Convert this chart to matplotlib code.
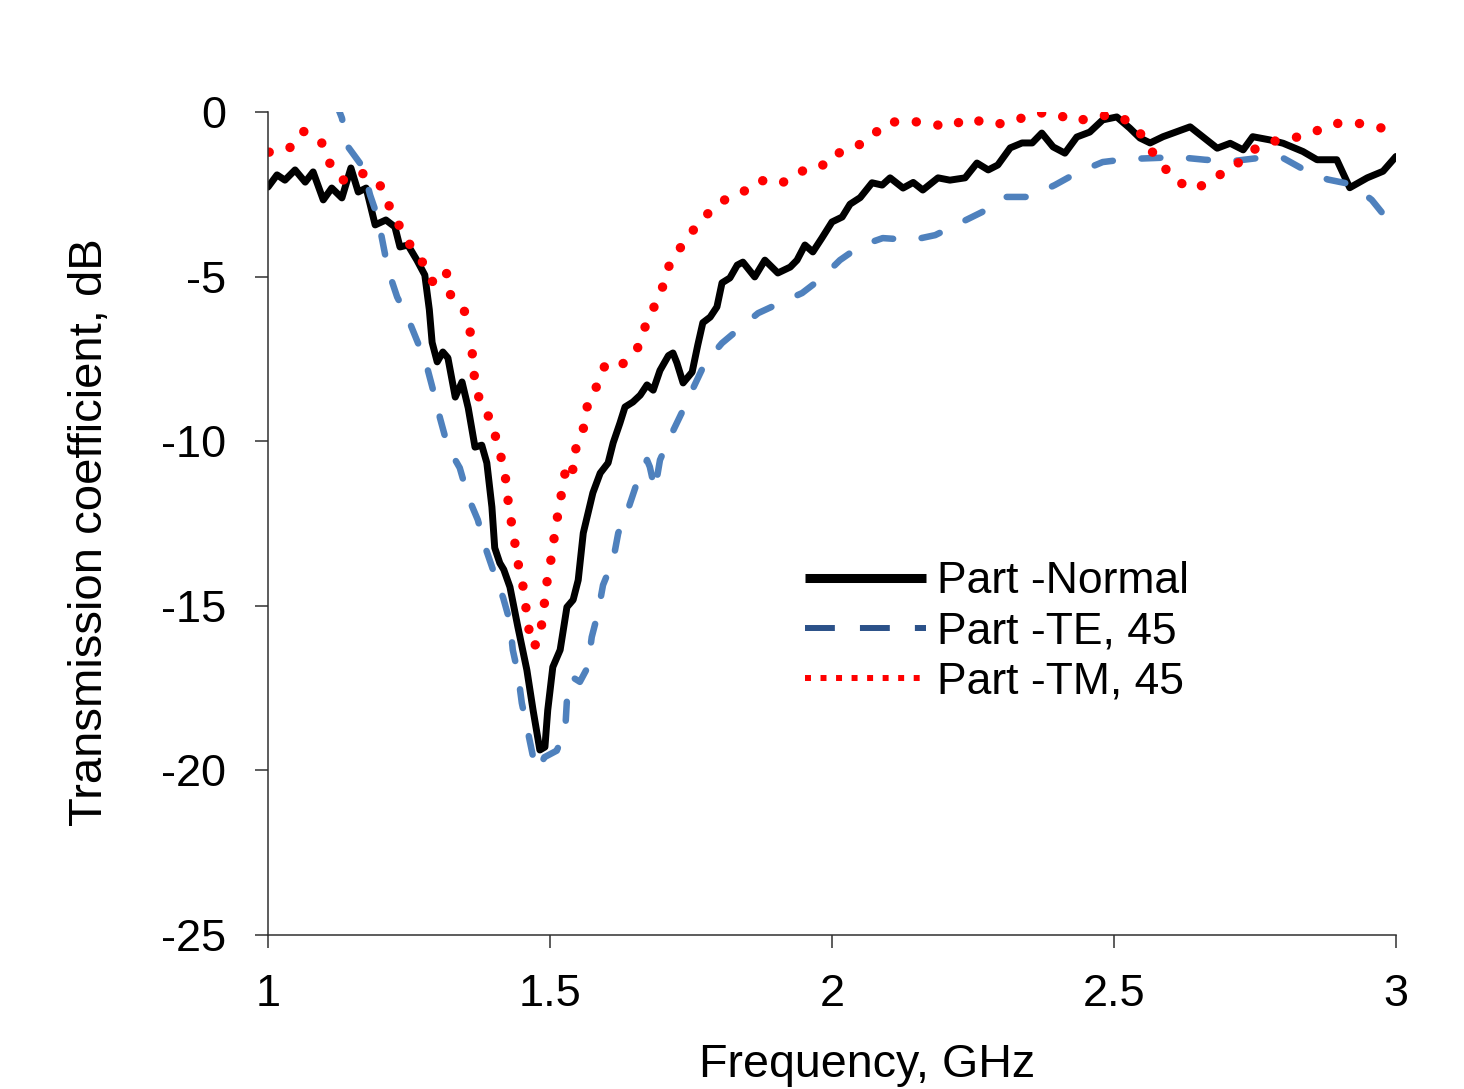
import matplotlib
matplotlib.use("Agg")
from matplotlib import pyplot as plt
from matplotlib.lines import Line2D

plt.rcParams['font.family'] = ['Liberation Sans', 'DejaVu Sans']
plt.rcParams['axes.unicode_minus'] = False

# Part - Normal incidence
freq_normal = [1.000, 1.016, 1.030, 1.048, 1.066, 1.080, 1.098, 1.113, 1.131, 1.147,
               1.160, 1.174, 1.190, 1.209, 1.225, 1.234, 1.248, 1.264, 1.278, 1.286,
               1.291, 1.300, 1.310, 1.319, 1.332, 1.344, 1.355, 1.367, 1.379, 1.388,
               1.397, 1.402, 1.411, 1.418, 1.429, 1.443, 1.459, 1.470, 1.482, 1.491,
               1.496, 1.505, 1.518, 1.530, 1.541, 1.550, 1.559, 1.576, 1.589, 1.603,
               1.612, 1.624, 1.633, 1.647, 1.660, 1.672, 1.683, 1.695, 1.710, 1.718,
               1.725, 1.736, 1.752, 1.762, 1.771, 1.784, 1.796, 1.805, 1.819, 1.832,
               1.842, 1.863, 1.881, 1.904, 1.926, 1.938, 1.952, 1.966, 1.982, 2.000,
               2.018, 2.032, 2.050, 2.071, 2.089, 2.103, 2.126, 2.144, 2.161, 2.188,
               2.209, 2.236, 2.257, 2.277, 2.294, 2.316, 2.337, 2.355, 2.372, 2.392,
               2.413, 2.434, 2.457, 2.480, 2.505, 2.528, 2.546, 2.564, 2.587, 2.635,
               2.683, 2.706, 2.729, 2.746, 2.777, 2.800, 2.835, 2.860, 2.895, 2.918,
               2.949, 2.977, 3.000]
s21_normal = [-2.28, -1.91, -2.07, -1.76, -2.13, -1.82, -2.67, -2.31, -2.61, -1.70,
              -2.43, -2.31, -3.43, -3.28, -3.49, -4.10, -4.04, -4.50, -4.95, -6.00,
              -7.00, -7.59, -7.29, -7.47, -8.66, -8.20, -8.99, -10.18, -10.12, -10.66,
              -12.00, -13.24, -13.70, -13.90, -14.43, -15.64, -16.95, -18.17, -19.38, -19.29,
              -18.17, -16.86, -16.34, -15.04, -14.82, -14.22, -12.79, -11.57, -10.97, -10.66,
              -10.05, -9.45, -8.96, -8.81, -8.60, -8.29, -8.45, -7.85, -7.40, -7.32,
              -7.62, -8.23, -7.90, -7.08, -6.40, -6.23, -5.92, -5.19, -5.04, -4.65,
              -4.56, -5.01, -4.50, -4.89, -4.71, -4.50, -4.04, -4.25, -3.83, -3.34,
              -3.19, -2.80, -2.60, -2.15, -2.22, -2.00, -2.31, -2.14, -2.37, -2.00,
              -2.07, -2.00, -1.55, -1.76, -1.61, -1.09, -0.94, -0.94, -0.64, -1.06,
              -1.25, -0.76, -0.61, -0.24, -0.15, -0.49, -0.79, -0.94, -0.75, -0.45,
              -1.10, -0.95, -1.15, -0.75, -0.85, -0.95, -1.20, -1.45, -1.45, -2.30,
              -2.00, -1.80, -1.35]

# Part - TE, 45 deg
freq_te = [1.120, 1.131, 1.142, 1.168, 1.181, 1.195, 1.206, 1.213, 1.229, 1.248,
           1.266, 1.282, 1.296, 1.305, 1.319, 1.340, 1.355, 1.372, 1.385, 1.399,
           1.417, 1.429, 1.434, 1.443, 1.450, 1.459, 1.470, 1.479, 1.490, 1.512,
           1.527, 1.530, 1.539, 1.553, 1.567, 1.574, 1.585, 1.594, 1.612, 1.621,
           1.638, 1.654, 1.672, 1.677, 1.686, 1.695, 1.713, 1.736, 1.754, 1.775,
           1.805, 1.837, 1.869, 1.908, 1.947, 1.982, 2.014, 2.050, 2.090, 2.142,
           2.183, 2.227, 2.266, 2.307, 2.351, 2.395, 2.434, 2.480, 2.523, 2.569,
           2.613, 2.661, 2.706, 2.755, 2.800, 2.842, 2.879, 2.922, 2.957, 2.989,
           3.000]
s21_te = [0.30, -0.18, -1.06, -1.67, -2.52, -3.22, -4.19, -4.80, -5.62, -6.26,
          -7.02, -7.75, -8.66, -9.30, -10.18, -10.81, -11.70, -12.39, -13.21, -13.91,
          -14.76, -15.49, -16.34, -17.04, -17.95, -18.68, -19.59, -19.99, -19.60, -19.40,
          -18.77, -17.86, -17.16, -17.31, -16.86, -15.95, -15.22, -14.37, -13.61, -12.79,
          -12.09, -11.27, -10.57, -10.78, -11.48, -10.57, -9.87, -9.05, -8.38, -7.62,
          -7.02, -6.56, -6.11, -5.80, -5.50, -5.04, -4.50, -4.07, -3.83, -3.89,
          -3.74, -3.37, -3.04, -2.58, -2.58, -2.22, -1.85, -1.52, -1.43, -1.40,
          -1.37, -1.45, -1.50, -1.40, -1.40, -1.80, -2.05, -2.20, -2.67, -3.35,
          -3.70]

# Part - TM, 45 deg
freq_tm = [1.002, 1.037, 1.062, 1.094, 1.108, 1.133, 1.163, 1.197, 1.213, 1.232,
           1.252, 1.275, 1.293, 1.316, 1.321, 1.339, 1.353, 1.360, 1.363, 1.367,
           1.378, 1.397, 1.406, 1.417, 1.424, 1.427, 1.436, 1.440, 1.450, 1.456,
           1.461, 1.468, 1.479, 1.486, 1.491, 1.496, 1.504, 1.509, 1.516, 1.523,
           1.530, 1.541, 1.546, 1.560, 1.567, 1.585, 1.599, 1.629, 1.654, 1.667,
           1.683, 1.699, 1.711, 1.732, 1.757, 1.784, 1.812, 1.842, 1.872, 1.908,
           1.938, 1.968, 1.993, 2.014, 2.041, 2.067, 2.094, 2.131, 2.168, 2.206,
           2.243, 2.282, 2.321, 2.356, 2.394, 2.431, 2.468, 2.505, 2.539, 2.560,
           2.585, 2.610, 2.645, 2.677, 2.711, 2.741, 2.778, 2.817, 2.855, 2.892,
           2.929, 2.966, 3.000]
s21_tm = [-1.22, -1.12, -0.58, -0.88, -1.52, -2.07, -1.82, -2.16, -2.79, -3.43,
          -4.04, -4.59, -5.19, -4.83, -5.50, -5.83, -6.17, -6.83, -7.53, -8.23,
          -8.93, -9.39, -10.05, -10.72, -11.42, -12.12, -12.79, -13.49, -14.16, -14.88,
          -15.55, -16.25, -16.13, -15.49, -14.79, -14.09, -13.40, -12.70, -12.03, -11.33,
          -10.63, -10.87, -10.21, -9.57, -8.84, -8.26, -7.62, -7.65, -7.23, -6.59,
          -5.98, -5.35, -4.68, -4.10, -3.52, -3.01, -2.64, -2.43, -2.07, -2.19,
          -1.88, -1.61, -1.61, -1.22, -1.06, -0.82, -0.33, -0.27, -0.33, -0.46,
          -0.18, -0.39, -0.30, -0.03, -0.03, -0.30, -0.12, -0.09, -0.43, -1.03,
          -1.60, -2.10, -2.35, -2.00, -1.70, -1.20, -0.90, -0.80, -0.60, -0.35,
          -0.33, -0.45, -0.60]

labels = ["Part -Normal", "Part -TE, 45", "Part -TM, 45"]
x_ticks = [1, 1.5, 2, 2.5, 3]
x_tick_labels = ["1", "1.5", "2", "2.5", "3"]
y_ticks = [0, -5, -10, -15, -20, -25]

fig = plt.figure(figsize=(14.64, 10.89), dpi=100)
ax = fig.add_axes([0.18306, 0.14141, 0.77049, 0.75574])

ax.plot(freq_normal, s21_normal, color="black", lw=5.0,
        solid_joinstyle="round", solid_capstyle="round", label=labels[0])
ax.plot(freq_te, s21_te, color="#4F81BD", lw=4.7, dashes=(2.9, 4.4),
        dash_capstyle="round", dash_joinstyle="round", label=labels[1])
ax.plot(freq_tm, s21_tm, color="#FF0000", lw=6.8, dashes=(0.01, 2.3),
        dash_capstyle="round", label=labels[2])

ax.set_xlim(1, 3)
ax.set_ylim(-25, 0)
ax.set_xticks(x_ticks)
ax.set_xticklabels(x_tick_labels)
ax.set_yticks(y_ticks)

for side in ["top", "right"]:
    ax.spines[side].set_visible(False)
for side in ["left", "bottom"]:
    ax.spines[side].set_color("#303030")
    ax.spines[side].set_linewidth(1.1)

ax.tick_params(axis="both", direction="out", length=9.4, width=1.1,
               color="#303030", labelsize=32.5)
ax.tick_params(axis="x", pad=19)
ax.tick_params(axis="y", pad=21)

ax.set_xlabel("Frequency, GHz", fontsize=33.6, va="baseline")
ax.xaxis.set_label_coords(0.531, -0.172)
ax.set_ylabel("Transmission coefficient, dB", fontsize=34, va="baseline")
ax.yaxis.set_label_coords(-0.147, 0.4897)

# legend entries drawn like the spreadsheet legend keys
handles = [
    Line2D([], [], color="black", lw=6.5, solid_capstyle="butt"),
    Line2D([], [], color="#2B5189", lw=4.3, dashes=(5.0, 4.2), dash_capstyle="butt"),
    Line2D([], [], color="#FF0000", lw=4.3, dashes=(1.0, 1.6), dash_capstyle="butt"),
]
ax.legend(handles, labels, loc="upper left", bbox_to_anchor=(0.476, 0.454),
          frameon=False, fontsize=32, handlelength=2.73, handletextpad=0.25,
          labelspacing=0.2, borderpad=0, borderaxespad=0)

fig.savefig("out.png", dpi=100)
